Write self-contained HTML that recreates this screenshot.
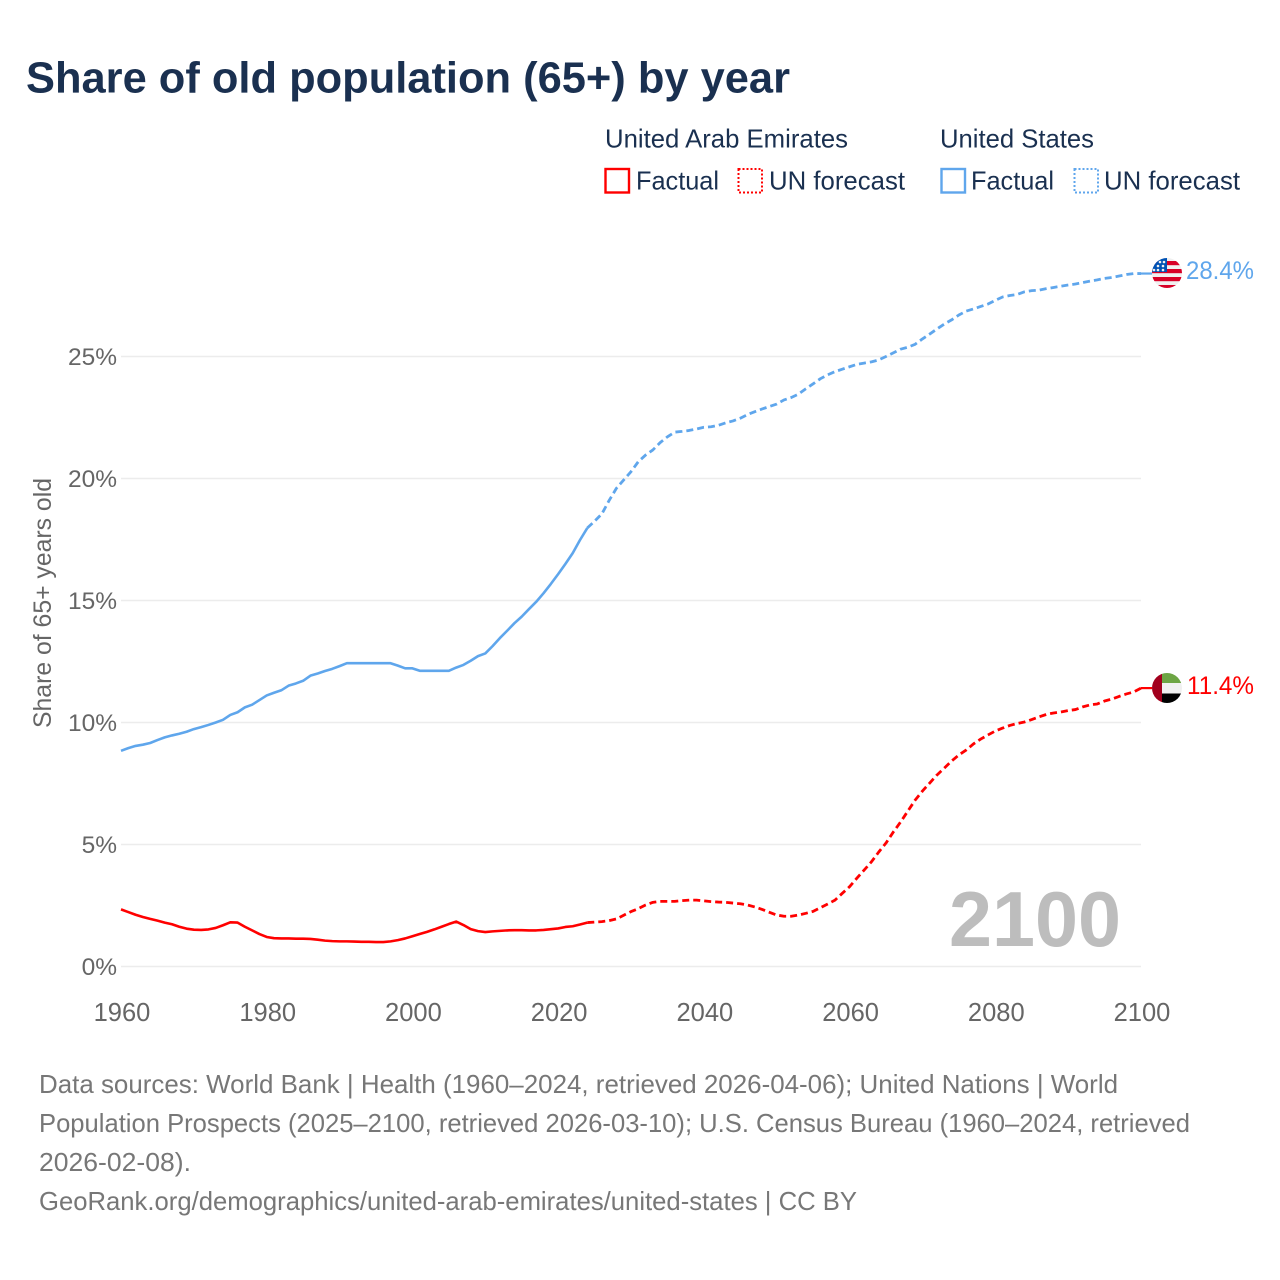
<!DOCTYPE html>
<html lang="en">
<head>
<meta charset="utf-8">
<title>Share of old population (65+) by year</title>
<style>
html,body{margin:0;padding:0;background:#fff;}
body{width:1280px;height:1280px;overflow:hidden;}
svg{display:block;font-family:"Liberation Sans",sans-serif;}
</style>
</head>
<body>
<svg id="chart" xmlns="http://www.w3.org/2000/svg" width="1280" height="1280" viewBox="0 0 1280 1280">
  <defs>
    <clipPath id="flag-clip-us"><circle cx="1167" cy="273" r="15"/></clipPath>
    <clipPath id="flag-clip-uae"><circle cx="1167" cy="688" r="15"/></clipPath>
  </defs>
  <rect x="0" y="0" width="1280" height="1280" fill="#fff"/>

  <text x="26" y="92.5" font-size="44" font-weight="700" fill="#1a3050" textLength="764" lengthAdjust="spacingAndGlyphs">Share of old population (65+) by year</text>

  <g font-size="26" fill="#1a3050">
    <text x="605" y="147.5" textLength="243" lengthAdjust="spacingAndGlyphs">United Arab Emirates</text>
    <text x="940" y="147.5" textLength="154" lengthAdjust="spacingAndGlyphs">United States</text>
    <rect x="605.5" y="169" width="23.5" height="23.5" fill="none" stroke="#ff0000" stroke-width="2.4"/>
    <text x="636" y="189.5" textLength="83" lengthAdjust="spacingAndGlyphs">Factual</text>
    <rect x="738.5" y="169" width="23.5" height="23.5" fill="none" stroke="#ff0000" stroke-width="2" stroke-dasharray="2 2"/>
    <text x="769" y="189.5" textLength="136" lengthAdjust="spacingAndGlyphs">UN forecast</text>
    <rect x="941.5" y="169" width="23.5" height="23.5" fill="none" stroke="#5fa6ec" stroke-width="2.4"/>
    <text x="971" y="189.5" textLength="83" lengthAdjust="spacingAndGlyphs">Factual</text>
    <rect x="1074.5" y="169" width="23.5" height="23.5" fill="none" stroke="#5fa6ec" stroke-width="2" stroke-dasharray="2 2"/>
    <text x="1104" y="189.5" textLength="136" lengthAdjust="spacingAndGlyphs">UN forecast</text>
  </g>

  <g id="grid"></g>
  <g id="y-ticks"></g>
  <g id="x-ticks"></g>

  <text transform="translate(51,603) rotate(-90)" text-anchor="middle" font-size="25" fill="#666" textLength="250" lengthAdjust="spacingAndGlyphs">Share of 65+ years old</text>

  <text id="year-label" x="949" y="946" font-size="78" font-weight="700" fill="#bdbdbd" textLength="172" lengthAdjust="spacingAndGlyphs">2100</text>

  <g id="series"></g>

  <g clip-path="url(#flag-clip-us)">
    <rect x="1150" y="256" width="34" height="34" fill="#f0f0f0"/>
    <rect x="1150" y="261" width="34" height="4.2" fill="#d80027"/>
    <rect x="1150" y="269" width="34" height="4.2" fill="#d80027"/>
    <rect x="1150" y="277" width="34" height="4.2" fill="#d80027"/>
    <rect x="1150" y="285" width="34" height="5" fill="#d80027"/>
    <rect x="1150" y="256" width="17" height="16" fill="#0052b4"/>
    <g fill="#f0f0f0">
      <circle cx="1158" cy="266" r="1.3"/><circle cx="1163" cy="266" r="1.3"/>
      <circle cx="1158" cy="270" r="1.3"/><circle cx="1163" cy="270" r="1.3"/>
      <circle cx="1154" cy="270" r="1.3"/><circle cx="1160" cy="262" r="1.3"/><circle cx="1164" cy="262" r="1.3"/>
    </g>
  </g>
  <g clip-path="url(#flag-clip-uae)">
    <rect x="1162" y="672" width="22" height="11" fill="#6da544"/>
    <rect x="1162" y="683" width="22" height="10.5" fill="#f0f0f0"/>
    <rect x="1162" y="693.5" width="22" height="11" fill="#000"/>
    <rect x="1150" y="672" width="12" height="33" fill="#a2001d"/>
  </g>

  <text id="value-us" x="1186" y="279" font-size="25" fill="#5fa6ec" textLength="68" lengthAdjust="spacingAndGlyphs">28.4%</text>
  <text id="value-uae" x="1187" y="694" font-size="25" fill="#ff0000" textLength="67" lengthAdjust="spacingAndGlyphs">11.4%</text>

  <g font-size="26" fill="#777">
    <text x="39" y="1093" textLength="1079" lengthAdjust="spacingAndGlyphs">Data sources: World Bank | Health (1960–2024, retrieved 2026-04-06); United Nations | World</text>
    <text x="39" y="1132" textLength="1151" lengthAdjust="spacingAndGlyphs">Population Prospects (2025–2100, retrieved 2026-03-10); U.S. Census Bureau (1960–2024, retrieved</text>
    <text x="39" y="1171" textLength="152" lengthAdjust="spacingAndGlyphs">2026-02-08).</text>
    <text x="39" y="1210" textLength="818" lengthAdjust="spacingAndGlyphs">GeoRank.org/demographics/united-arab-emirates/united-states | CC BY</text>
  </g>
</svg>

<script>
const years = [1960,1961,1962,1963,1964,1965,1966,1967,1968,1969,
1970,1971,1972,1973,1974,1975,1976,1977,1978,1979,
1980,1981,1982,1983,1984,1985,1986,1987,1988,1989,
1990,1991,1992,1993,1994,1995,1996,1997,1998,1999,
2000,2001,2002,2003,2004,2005,2006,2007,2008,2009,
2010,2011,2012,2013,2014,2015,2016,2017,2018,2019,
2020,2021,2022,2023,2024,2025,2026,2027,2028,2029,
2030,2031,2032,2033,2034,2035,2036,2037,2038,2039,
2040,2041,2042,2043,2044,2045,2046,2047,2048,2049,
2050,2051,2052,2053,2054,2055,2056,2057,2058,2059,
2060,2061,2062,2063,2064,2065,2066,2067,2068,2069,
2070,2071,2072,2073,2074,2075,2076,2077,2078,2079,
2080,2081,2082,2083,2084,2085,2086,2087,2088,2089,
2090,2091,2092,2093,2094,2095,2096,2097,2098,2099,
2100];

const usShare = [8.84,8.95,9.04,9.09,9.16,9.28,9.39,9.47,9.54,9.62,
9.73,9.81,9.90,10.00,10.11,10.31,10.42,10.62,10.73,10.92,
11.11,11.22,11.32,11.51,11.60,11.71,11.92,12.01,12.11,12.20,
12.31,12.43,12.43,12.43,12.43,12.43,12.43,12.43,12.33,12.22,
12.22,12.12,12.12,12.12,12.12,12.12,12.25,12.36,12.53,12.72,
12.83,13.13,13.46,13.76,14.07,14.34,14.65,14.95,15.30,15.68,
16.08,16.50,16.94,17.48,17.97,18.25,18.55,19.10,19.60,19.94,
20.28,20.69,20.96,21.17,21.47,21.71,21.90,21.93,21.97,22.03,
22.10,22.12,22.18,22.28,22.36,22.47,22.62,22.74,22.85,22.95,
23.05,23.22,23.32,23.46,23.68,23.88,24.09,24.25,24.38,24.48,
24.58,24.68,24.73,24.78,24.86,25.00,25.15,25.30,25.38,25.50,
25.72,25.92,26.13,26.33,26.50,26.70,26.86,26.95,27.05,27.15,
27.30,27.44,27.50,27.54,27.65,27.70,27.72,27.78,27.83,27.88,
27.93,27.97,28.03,28.09,28.14,28.20,28.24,28.30,28.36,28.40,
28.40];

const uaeShare = [2.34,2.23,2.12,2.03,1.95,1.88,1.80,1.73,1.63,1.55,
1.51,1.50,1.52,1.58,1.69,1.81,1.80,1.63,1.48,1.33,
1.21,1.16,1.15,1.15,1.14,1.14,1.13,1.10,1.06,1.04,
1.03,1.03,1.02,1.01,1.01,1.00,1.00,1.03,1.08,1.15,
1.24,1.33,1.42,1.52,1.63,1.74,1.84,1.70,1.53,1.45,
1.41,1.44,1.46,1.48,1.49,1.49,1.48,1.48,1.50,1.53,
1.56,1.62,1.65,1.72,1.80,1.82,1.84,1.88,1.95,2.10,
2.25,2.37,2.52,2.63,2.67,2.67,2.67,2.70,2.72,2.72,
2.69,2.66,2.64,2.63,2.60,2.57,2.52,2.44,2.34,2.22,
2.11,2.06,2.06,2.11,2.18,2.26,2.41,2.56,2.72,3.00,
3.27,3.62,3.95,4.29,4.69,5.06,5.51,5.92,6.37,6.82,
7.19,7.52,7.85,8.13,8.42,8.67,8.87,9.12,9.32,9.49,
9.65,9.77,9.88,9.96,10.02,10.12,10.23,10.33,10.39,10.43,
10.49,10.53,10.64,10.72,10.76,10.88,10.96,11.07,11.17,11.25,
11.41];

const lastFactualYear = 2024;
const yTickValues = [0,5,10,15,20,25];
const yTickLabels = ["0%","5%","10%","15%","20%","25%"];
const xTickValues = [1960,1980,2000,2020,2040,2060,2080,2100];

const NS = "http://www.w3.org/2000/svg";
const xScale = y => 121 + (y - 1960) * (1141 - 121) / (2100 - 1960);
const yScale = v => 966.5 - v * (966.5 - 356.5) / 25;

function make(tag, attrs, parent) {
  const el = document.createElementNS(NS, tag);
  for (const k in attrs) el.setAttribute(k, attrs[k]);
  parent.appendChild(el);
  return el;
}

const gridGroup = document.getElementById("grid");
const yTickGroup = document.getElementById("y-ticks");
yTickValues.forEach((v, i) => {
  const line = make("line", {x1: 121, x2: 1141, y1: yScale(v), y2: yScale(v), stroke: "#ececec", "stroke-width": 1.6}, gridGroup);
  
  
  const label = make("text", {x: 117, y: yScale(v) + 8.5, "text-anchor": "end", "font-size": 24.5, fill: "#666"}, yTickGroup);
  
  
  label.textContent = yTickLabels[i];
});

const xTickGroup = document.getElementById("x-ticks");
xTickValues.forEach(v => {
  const label = make("text", {x: xScale(v) + 1, y: 1021, "text-anchor": "middle", "font-size": 25.5, fill: "#666"}, xTickGroup);
  
  
  label.textContent = String(v);
});

function pathFor(values, from, to) {
  let d = "";
  years.forEach((y, i) => {
    if (y >= from && y <= to) {
      d += (d ? "L" : "M") + xScale(y).toFixed(2) + " " + yScale(values[i]).toFixed(2);
    }
  });
  return d;
}

const seriesGroup = document.getElementById("series");
function drawSeries(values, color, slug) {
  const lastYear = years[years.length - 1];
  const solid = make("path", {d: pathFor(values, years[0], lastFactualYear), fill: "none", stroke: color, "stroke-width": 2.6, "stroke-linejoin": "round"}, seriesGroup);
  
  
  const dashed = make("path", {d: pathFor(values, lastFactualYear, lastYear), fill: "none", stroke: color, "stroke-width": 2.8, "stroke-dasharray": "7 4", "stroke-linejoin": "round"}, seriesGroup);
  
  
  const endY = yScale(values[values.length - 1]);
  const lead = make("line", {x1: xScale(lastYear), x2: 1152, y1: endY, y2: endY, stroke: color, "stroke-width": 2.2}, seriesGroup);
  
  
}
drawSeries(usShare, "#5fa6ec", "us");
drawSeries(uaeShare, "#ff0000", "uae");
</script>
</body>
</html>
